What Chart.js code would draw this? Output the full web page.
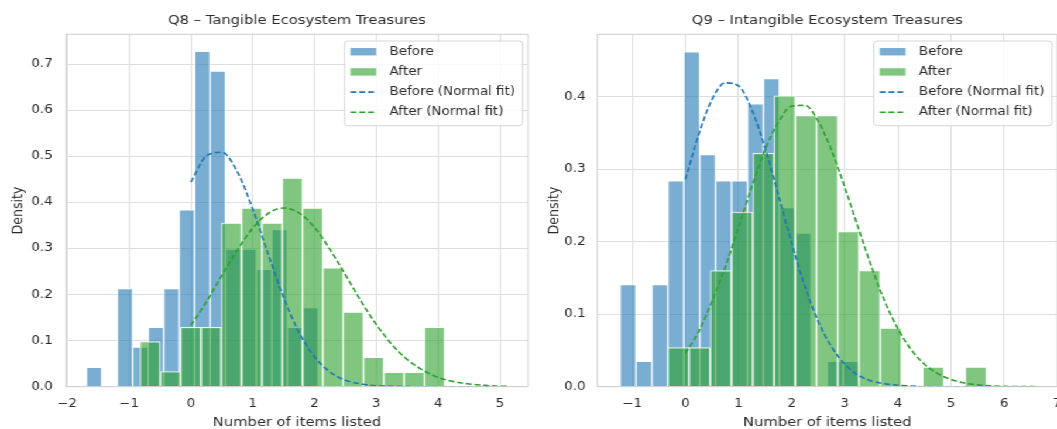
<!DOCTYPE html>
<html>
<head>
<meta charset="utf-8">
<script src="https://cdn.jsdelivr.net/npm/chart.js@4.4.1/dist/chart.umd.min.js"></script>
<style>
  html, body { margin: 0; padding: 0; background: #ffffff; overflow: hidden; }
  /* the reference figure is stretched horizontally, so draw narrow and scale x */
  #wrap { position: absolute; left: 0; top: 0; width: 903px; height: 429px; overflow: hidden;
          transform: scaleX(1.17054); transform-origin: 0 0; }
  canvas { position: absolute; top: 0; }
</style>
</head>
<body>
<div id="wrap">
  <canvas id="q8-chart" width="460" height="440" style="left:0"></canvas>
  <canvas id="q9-chart" width="460" height="440" style="left:460px"></canvas>
</div>
<script>
// ── Q8 data ─────────────────────────────────────────────────────────────────
const q8Title = 'Q8 – Tangible Ecosystem Treasures';
const q8BeforeBins    = [-1.565, -1.315, -1.065, -0.815, -0.565, -0.315, -0.065, 0.185, 0.435, 0.685, 0.935, 1.185, 1.435, 1.685, 1.935];
const q8BeforeDensity = [0.042, 0, 0.213, 0.086, 0.129, 0.213, 0.384, 0.728, 0.685, 0.299, 0.299, 0.255, 0.341, 0.129, 0.172];
const q8AfterBins     = [-0.658, -0.329, -0.001, 0.328, 0.656, 0.985, 1.313, 1.642, 1.970, 2.299, 2.627, 2.956, 3.284, 3.613, 3.941];
const q8AfterDensity  = [0.098, 0.033, 0.129, 0.129, 0.355, 0.388, 0.355, 0.453, 0.388, 0.258, 0.162, 0.064, 0.031, 0.031, 0.129];
const q8FitX      = [0, 0.25, 0.5, 0.75, 1, 1.25, 1.5, 1.75, 2, 2.25, 2.5, 2.75, 3, 3.25, 3.5, 3.75, 4, 4.25, 4.5, 4.75, 5, 5.15];
const q8BeforeFit = [0.444, 0.501, 0.509, 0.467, 0.386, 0.288, 0.194, 0.118, 0.065, 0.032, 0.014, 0.006, 0.002, 0.001, 0.0002, 0, 0, 0, 0, 0, 0, 0];
const q8AfterFit  = [0.133, 0.184, 0.241, 0.296, 0.344, 0.376, 0.388, 0.377, 0.346, 0.298, 0.243, 0.186, 0.135, 0.092, 0.059, 0.036, 0.020, 0.011, 0.006, 0.003, 0.001, 0.001];
const q8XTicks = [-2, -1, 0, 1, 2, 3, 4, 5];
const q8YTicks = [0, 0.1, 0.2, 0.3, 0.4, 0.5, 0.6, 0.7];

// ── Q9 data ─────────────────────────────────────────────────────────────────
const q9Title = 'Q9 – Intangible Ecosystem Treasures';
const q9BeforeBins    = [-1.081, -0.781, -0.481, -0.181, 0.119, 0.419, 0.719, 1.019, 1.319, 1.619, 1.919, 2.219, 2.519, 2.819, 3.119];
const q9BeforeDensity = [0.141, 0.035, 0.141, 0.284, 0.462, 0.320, 0.284, 0.284, 0.390, 0.425, 0.247, 0.212, 0, 0.035, 0.035];
const q9AfterBins     = [-0.133, 0.267, 0.667, 1.067, 1.467, 1.867, 2.267, 2.667, 3.067, 3.467, 3.867, 4.267, 4.667, 5.067, 5.467];
const q9AfterDensity  = [0.054, 0.054, 0.160, 0.241, 0.322, 0.401, 0.374, 0.374, 0.214, 0.160, 0.081, 0, 0.027, 0, 0.027];
const q9FitX      = [0, 0.25, 0.5, 0.75, 1, 1.25, 1.5, 1.75, 2, 2.25, 2.5, 2.75, 3, 3.25, 3.5, 3.75, 4, 4.25, 4.5, 4.75, 5, 5.25, 5.5, 5.75, 6, 6.25, 6.5, 6.6];
const q9BeforeFit = [0.286, 0.348, 0.396, 0.419, 0.415, 0.382, 0.329, 0.264, 0.198, 0.138, 0.090, 0.055, 0.031, 0.016, 0.008, 0.004, 0.002, 0.001, 0, 0, 0, 0, 0, 0, 0, 0, 0, 0];
const q9AfterFit  = [0.046, 0.076, 0.118, 0.165, 0.220, 0.276, 0.327, 0.365, 0.387, 0.388, 0.366, 0.326, 0.275, 0.220, 0.166, 0.118, 0.080, 0.051, 0.031, 0.018, 0.010, 0.005, 0.0025, 0.0011, 0.0005, 0.0002, 0.0001, 0];
const q9XTicks = [-1, 0, 1, 2, 3, 4, 5, 6, 7];
const q9YTicks = [0, 0.1, 0.2, 0.3, 0.4];

const BLUE = '#1f77b4', GREEN = '#2ca02c';
const BLUE_FILL = 'rgba(31,119,180,0.6)', GREEN_FILL = 'rgba(44,160,44,0.6)';
const EDGE = 'rgba(255,255,255,0.85)';
const GRID = '#dedede';
const TEXT = '#2b2b2b';

Chart.defaults.font.family = '"DejaVu Sans", sans-serif';

function toPoints(xs, ys) { return xs.map((x, i) => ({ x, y: ys[i] })); }
function tickLabel(v) { return v < 0 ? '\u2212' + Math.abs(v) : String(v); }

// spines on all four sides, like the seaborn whitegrid axes
const frameBox = {
    id: 'frameBox',
    afterDatasetsDraw(chart) {
        const { ctx, chartArea: a } = chart;
        ctx.save();
        ctx.strokeStyle = '#cfcfcf';
        ctx.lineWidth = 1;
        ctx.strokeRect(a.left, a.top, a.right - a.left, a.bottom - a.top);
        ctx.restore();
    }
};

// boxed legend in the upper right corner of the plot area
const boxLegend = {
    id: 'boxLegend',
    afterDraw(chart) {
        const { ctx, chartArea: a } = chart;
        const sets = chart.data.datasets;
        ctx.save();
        ctx.font = '11.5px "DejaVu Sans"';
        const textW = Math.max(...sets.map(d => ctx.measureText(d.label).width));
        const w = 38.5 + textW + 6.5, h = 84.7;
        const x0 = a.right - 4.5 - w, y0 = a.top + 6.7;
        ctx.beginPath();
        if (ctx.roundRect) ctx.roundRect(x0, y0, w, h, 3); else ctx.rect(x0, y0, w, h);
        ctx.fillStyle = 'rgba(255,255,255,0.8)';
        ctx.fill();
        ctx.strokeStyle = 'rgba(204,204,204,0.8)';
        ctx.lineWidth = 1;
        ctx.stroke();
        sets.forEach((d, i) => {
            const cy = y0 + 10.7 + i * 20.2;
            if (d.type === 'line') {
                ctx.beginPath();
                ctx.setLineDash(d.borderDash);
                ctx.strokeStyle = d.borderColor;
                ctx.lineWidth = d.borderWidth;
                ctx.moveTo(x0 + 5.1, cy);
                ctx.lineTo(x0 + 27.1, cy);
                ctx.stroke();
                ctx.setLineDash([]);
            } else {
                ctx.fillStyle = d.backgroundColor;
                ctx.fillRect(x0 + 5.1, cy - 3.7, 22, 7.4);
            }
            ctx.fillStyle = TEXT;
            ctx.textBaseline = 'middle';
            ctx.textAlign = 'left';
            ctx.fillText(d.label, x0 + 38.5, cy);
        });
        ctx.restore();
    }
};

function drawHistogram(canvasId, spec) {
    const ctx = document.getElementById(canvasId).getContext('2d');
    const xBase = {
        type: 'linear', axis: 'x', position: 'bottom',
        min: spec.xMin, max: spec.xMax, offset: false,
        afterBuildTicks: axis => { axis.ticks = spec.xTicks.map(v => ({ value: v })); }
    };

    return new Chart(ctx, {
        type: 'bar',
        data: {
            datasets: [
                { type: 'bar', label: 'Before', data: toPoints(spec.beforeBins, spec.beforeDensity), xAxisID: 'x', yAxisID: 'y',
                  backgroundColor: BLUE_FILL, borderColor: EDGE, borderWidth: 1, grouped: false,
                  barPercentage: 1, categoryPercentage: 1, order: 4 },
                { type: 'bar', label: 'After', data: toPoints(spec.afterBins, spec.afterDensity), xAxisID: 'x2', yAxisID: 'y',
                  backgroundColor: GREEN_FILL, borderColor: EDGE, borderWidth: 1, grouped: false,
                  barPercentage: 1, categoryPercentage: 1, order: 3 },
                { type: 'line', label: 'Before (Normal fit)', data: toPoints(spec.fitX, spec.beforeFit), xAxisID: 'x', yAxisID: 'y',
                  borderColor: BLUE, borderWidth: 1.6, borderDash: [5, 2.5], pointRadius: 0, fill: false,
                  cubicInterpolationMode: 'monotone', order: 2 },
                { type: 'line', label: 'After (Normal fit)', data: toPoints(spec.fitX, spec.afterFit), xAxisID: 'x', yAxisID: 'y',
                  borderColor: GREEN, borderWidth: 1.6, borderDash: [5, 2.5], pointRadius: 0, fill: false,
                  cubicInterpolationMode: 'monotone', order: 1 }
            ]
        },
        options: {
            responsive: false,
            animation: false,
            events: [],
            layout: { padding: { left: 0, right: spec.padRight, top: 0, bottom: 0 } },
            plugins: {
                legend: { display: false },
                tooltip: { enabled: false },
                title: {
                    display: true, text: spec.title, fullSize: false, color: TEXT,
                    font: { size: 12.6, weight: 'normal' }, padding: { top: 13, bottom: 6.2 }
                }
            },
            scales: {
                x: {
                    ...xBase,
                    grid: { color: GRID, lineWidth: 1, drawTicks: false, offset: false },
                    border: { display: false },
                    ticks: { color: TEXT, font: { size: 11.5 }, padding: 10, maxRotation: 0, autoSkip: false, callback: tickLabel },
                    title: { display: true, text: 'Number of items listed', color: TEXT, font: { size: 12.6 }, padding: { top: 0, bottom: 10 } },
                    afterFit: s => { s.height = 53.3; }
                },
                x2: { ...xBase, display: false, grid: { offset: false } },
                y: {
                    type: 'linear', min: 0, max: spec.yMax,
                    grid: { color: GRID, lineWidth: 1, drawTicks: false },
                    border: { display: false },
                    afterBuildTicks: axis => { axis.ticks = spec.yTicks.map(v => ({ value: v })); },
                    ticks: { color: TEXT, font: { size: 11.5 }, padding: spec.yTickPad, autoSkip: false, callback: v => v.toFixed(1) },
                    title: { display: true, text: 'Density', color: TEXT, font: { size: 12.6 }, padding: { top: spec.yTitlePad, bottom: 0 } },
                    afterFit: s => { s.width = spec.yAxisWidth; }
                }
            }
        },
        plugins: [frameBox, boxLegend]
    });
}

drawHistogram('q8-chart', {
    title: q8Title,
    beforeBins: q8BeforeBins, beforeDensity: q8BeforeDensity,
    afterBins: q8AfterBins, afterDensity: q8AfterDensity,
    fitX: q8FitX, beforeFit: q8BeforeFit, afterFit: q8AfterFit,
    xTicks: q8XTicks, yTicks: q8YTicks,
    xMin: -2.019, xMax: 5.453, yMax: 0.765,
    yAxisWidth: 56.4, padRight: 8.9, yTickPad: 11.4, yTitlePad: 8.4
});

drawHistogram('q9-chart', {
    title: q9Title,
    beforeBins: q9BeforeBins, beforeDensity: q9BeforeDensity,
    afterBins: q9AfterBins, afterDensity: q9AfterDensity,
    fitX: q9FitX, beforeFit: q9BeforeFit, afterFit: q9AfterFit,
    xTicks: q9XTicks, yTicks: q9YTicks,
    xMin: -1.659, xMax: 7.0, yMax: 0.486,
    yAxisWidth: 50.3, padRight: 16.75, yTickPad: 10, yTitlePad: 5.7
});
</script>
</body>
</html>
